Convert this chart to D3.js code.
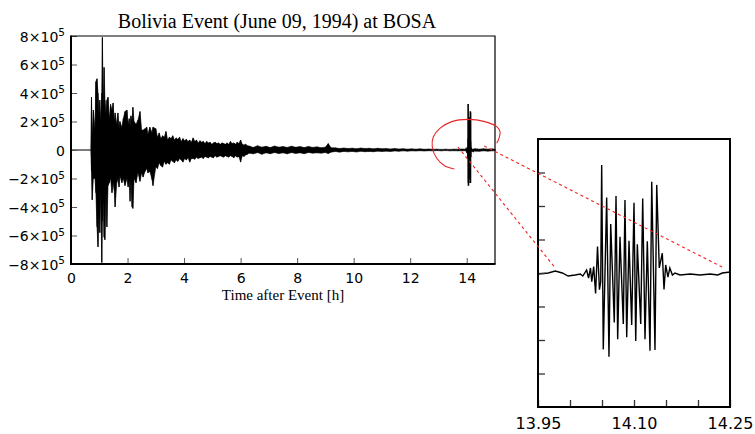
<!DOCTYPE html>
<html lang="en">
  <head>
    <meta charset="utf-8" />
    <style>
      body {
        margin: 0;
        background: #fff;
      }
      svg {
        display: block;
      }
    </style>
  </head>
  <body>
    <svg id="chart" width="755" height="434"></svg>
    <script src="https://d3js.org/d3.v7.min.js"></script>
    <script>
      // values in units of 1e5 counts, time in hours after the event

      // min / max envelope of the trace
      const envTime = [
        0, 0.7, 0.725, 0.75, 0.79, 0.85, 0.88, 0.92, 0.955, 0.99, 1.02, 1.05,
        1.09, 1.11, 1.14, 1.17, 1.2, 1.24, 1.27, 1.31, 1.355, 1.4, 1.45, 1.49,
        1.53, 1.56, 1.62, 1.66, 1.7, 1.73, 1.8, 1.85, 1.91, 1.98, 2.02, 2.06,
        2.09, 2.12, 2.16, 2.19, 2.23, 2.3, 2.37, 2.44, 2.5, 2.55, 2.62, 2.68,
        2.72, 2.79, 2.87, 2.9,
        3.0, 3.06, 3.12, 3.18, 3.24, 3.3, 3.36, 3.42, 3.48, 3.54, 3.6, 3.66,
        3.72, 3.78, 3.84, 3.9, 3.96, 4.02, 4.08, 4.14, 4.2, 4.26, 4.32, 4.38,
        4.44, 4.5, 4.56, 4.62, 4.68, 4.74, 4.8, 4.86, 4.92, 4.98, 5.04, 5.1,
        5.16, 5.22, 5.28, 5.34, 5.4, 5.46, 5.52, 5.58, 5.64, 5.7, 5.76, 5.82,
        5.88, 5.94, 6.0, 6.06, 6.12, 6.18, 6.24,
        6.3, 6.45, 6.6, 6.75, 6.9, 7.05, 7.2, 7.35, 7.5, 7.65, 7.8, 7.95, 8.1,
        8.25, 8.4, 8.55, 8.7, 8.85, 9.0, 9.1, 9.2, 9.35, 9.5, 9.65, 9.8, 9.95,
        10.1, 10.25, 10.4, 10.55, 10.7, 10.85, 11.0, 11.15, 11.3, 11.45, 11.6,
        11.75, 11.9, 12.05, 12.2, 12.35, 12.5, 12.65, 12.8, 12.95, 13.1,
        13.25, 13.4, 13.55, 13.7, 13.85, 13.97, 14.0, 14.18, 14.3, 14.45,
        14.6, 14.75, 14.9, 15.0
      ];
      const envHigh = [
        0, 0, 3.7, 1.0, 2.8, 1.5, 4.8, 5.0, 4.0, 2.5, 3.5, 2.0, 4.0, 7.9, 3.0,
        5.8, 3.5, 2.5, 3.5, 3.7, 2.2, 3.2, 2.8, 3.3, 2.0, 2.6, 1.8, 2.6, 1.5,
        2.0, 1.6, 2.2, 2.7, 2.8, 1.8, 2.2, 1.6, 2.4, 2.0, 3.0, 2.0, 1.8, 2.1,
        2.7, 1.4, 1.4, 1.5, 1.6, 1.1, 1.6, 1.2, 1.6,
        1.5, 0.9, 1.2, 0.8, 1.0, 0.9, 1.3, 0.7, 0.9, 0.8, 1.0, 0.7, 0.85, 0.75,
        0.9, 0.6, 0.8, 0.65, 0.75, 0.6, 0.7, 0.55, 0.85, 0.6, 0.7, 0.5, 0.65,
        0.55, 0.6, 0.45, 0.6, 0.5, 0.55, 0.4, 0.5, 0.55, 0.45, 0.5, 0.4, 0.5,
        0.45, 0.4, 0.5, 0.4, 0.6, 0.45, 0.5, 0.4, 0.55, 0.45, 0.7, 0.4, 0.35,
        0.4, 0.3,
        0.28, 0.18, 0.3, 0.2, 0.26, 0.17, 0.28, 0.2, 0.24, 0.18, 0.27, 0.19,
        0.24, 0.17, 0.25, 0.18, 0.22, 0.16, 0.2, 0.45, 0.15, 0.15, 0.1, 0.14,
        0.1, 0.13, 0.09, 0.14, 0.1, 0.12, 0.08, 0.12, 0.09, 0.1, 0.07, 0.1,
        0.07, 0.09, 0.06, 0.08, 0.06, 0.08, 0.05, 0.07, 0.05, 0.06, 0.04,
        0.06, 0.04, 0.06, 0.05, 0.07, 0.05, 0.04, 0.05, 0.09, 0.06, 0.09,
        0.06, 0.08, 0.05
      ];
      const envLow = [
        0, 0, -1.5, -3.5, -2.0, -2.0, -3.0, -5.4, -6.8, -4.5, -5.8, -3.0, -7.9,
        -5.0, -3.5, -6.1, -6.3, -3.0, -5.4, -2.5, -2.3, -2.0, -3.0, -2.3, -2.8,
        -4.0, -2.3, -2.0, -2.6, -1.8, -2.3, -2.0, -2.5, -2.0, -2.6, -2.2, -3.6,
        -2.0, -4.0, -4.1, -2.0, -2.3, -1.6, -2.2, -1.6, -1.9, -1.5, -1.3, -1.6,
        -1.5, -2.1, -2.5,
        -1.2, -1.3, -0.9, -1.1, -1.2, -0.8, -1.0, -0.9, -1.0, -0.7, -0.8, -0.9,
        -0.7, -0.8, -0.6, -0.7, -0.85, -0.6, -0.7, -0.55, -0.85, -0.6, -0.6,
        -0.65, -0.5, -0.6, -0.55, -0.5, -0.6, -0.45, -0.5, -0.55, -0.45, -0.5,
        -0.55, -0.4, -0.5, -0.45, -0.4, -0.45, -0.5, -0.4, -0.45, -0.5, -0.4,
        -0.45, -0.55, -0.4, -0.5, -0.45, -0.85, -0.4, -0.45, -0.35, -0.3,
        -0.22, -0.27, -0.18, -0.3, -0.2, -0.26, -0.18, -0.25, -0.2, -0.27,
        -0.18, -0.24, -0.2, -0.26, -0.17, -0.22, -0.2, -0.22, -0.18, -0.25,
        -0.15, -0.1, -0.15, -0.1, -0.13, -0.1, -0.14, -0.09, -0.12, -0.1,
        -0.12, -0.08, -0.1, -0.08, -0.1, -0.07, -0.09, -0.06, -0.08, -0.06,
        -0.07, -0.05, -0.07, -0.05, -0.06, -0.04, -0.06, -0.04, -0.06, -0.05,
        -0.06, -0.05, -0.05, -0.04, -0.06, -0.08, -0.09, -0.06, -0.08, -0.06,
        -0.05
      ];

      // the burst around 14.1 h, sample by sample
      const burstTime = [
        13.95, 13.966, 13.977, 13.988, 13.997, 14.008, 14.016, 14.02, 14.026,
        14.029, 14.032, 14.034, 14.037, 14.04, 14.043, 14.046, 14.048, 14.0495,
        14.052, 14.0573, 14.0609, 14.0636, 14.0692, 14.0719, 14.0745, 14.0781,
        14.0833, 14.0859, 14.0886, 14.0922, 14.0964, 14.1, 14.1027, 14.1052,
        14.1105, 14.1136, 14.1172, 14.1208, 14.125, 14.1277, 14.1328, 14.1355,
        14.1395, 14.1442, 14.1469, 14.1495, 14.153, 14.156, 14.16, 14.164,
        14.172, 14.188, 14.203, 14.219, 14.231, 14.238, 14.25
      ];
      const burstValue = [
        -0.03, 0.0, 0.06, 0.0, -0.09, -0.06, -0.03, -0.09, 0.09, -0.15, 0.15,
        -0.26, 0.19, -0.61, 0.79, -0.5, -0.27, 3.22, -2.28, 2.25, -2.5, 1.46,
        -1.48, 2.3, -1.98, 1.08, -1.52, 2.18, -1.92, 0.96, -1.55, 2.1, -2.03,
        0.86, -1.52, 2.22, -1.98, 0.95, -2.32, 2.72, -2.3, 2.63, 0.15, 0.59,
        -0.49, 0.24, -0.12, 0.15, -0.06, 0.0, -0.06, -0.03, -0.06, -0.03,
        -0.06, 0.0, 0.03
      ];

      const mainYTicks = [-8, -6, -4, -2, 0, 2, 4, 6, 8];
      const mainXTicks = [0, 2, 4, 6, 8, 10, 12, 14];
      const insetYTicks = [-3, -2, -1, 0, 1, 2, 3];
      const insetXTicks = [13.95, 14.0, 14.05, 14.1, 14.15, 14.2, 14.25];
      const insetXLabels = [13.95, 14.1, 14.25];

      // red hand-drawn loop around the burst (main plot units)
      const loopTime = [
        13.56, 13.23, 12.94, 12.78, 12.82, 13.05, 13.47, 14.05, 14.64, 15.06,
        15.18, 15.14, 15.06
      ];
      const loopValue = [
        -1.33, -1.12, -0.58, 0.23, 0.93, 1.52, 1.99, 2.15, 1.99, 1.64, 1.28,
        0.82, 0.47
      ];
      // red dashed zoom lines: start in main plot, end in inset
      const zoomFromTime = [13.69, 14.62];
      const zoomFromValue = [0.21, 0.28];
      const zoomToTime = [13.977, 14.2375];
      const zoomToValue = [0.15, 0.18];

      const svg = d3.select("#chart");

      const main = { left: 71, right: 495, top: 36, bottom: 264 };
      const inset = { left: 538, right: 730, top: 139, bottom: 407 };

      const x = d3.scaleLinear().domain([0, 15]).range([main.left, main.right]);
      const y = d3.scaleLinear().domain([-8, 8]).range([main.bottom, main.top]);
      const xi = d3
        .scaleLinear()
        .domain([13.95, 14.25])
        .range([inset.left, inset.right]);
      const yi = d3
        .scaleLinear()
        .domain([-4, 4])
        .range([inset.bottom, inset.top]);

      const env = envTime.map((t, i) => ({
        t: t,
        hi: envHigh[i],
        lo: envLow[i]
      }));
      const burst = burstTime.map((t, i) => ({ t: t, v: burstValue[i] }));

      // ---- main plot ----
      svg
        .append("path")
        .datum(env)
        .attr("fill", "#000")
        .attr("stroke", "#000")
        .attr("stroke-width", 0.6)
        .attr(
          "d",
          d3
            .area()
            .x(d => x(d.t))
            .y0(d => y(d.lo))
            .y1(d => y(d.hi))
        );

      // one stroke per sample so the spikes reach their full height
      svg
        .append("g")
        .attr("stroke", "#000")
        .attr("stroke-width", 1)
        .selectAll("line")
        .data(env.filter(d => d.hi - d.lo > 0))
        .join("line")
        .attr("x1", d => x(d.t))
        .attr("x2", d => x(d.t))
        .attr("y1", d => y(d.lo))
        .attr("y2", d => y(d.hi));

      svg
        .append("path")
        .datum(burst)
        .attr("fill", "none")
        .attr("stroke", "#000")
        .attr("stroke-width", 1.6)
        .attr(
          "d",
          d3
            .line()
            .x(d => x(d.t))
            .y(d => y(d.v))
        );

      const mainY = svg
        .append("g")
        .attr("transform", `translate(${main.left},0)`)
        .call(
          d3
            .axisLeft(y)
            .tickValues(mainYTicks)
            .tickSize(-6)
            .tickPadding(6)
        );
      mainY.select(".domain").remove();
      mainY.selectAll("line").attr("stroke", "#555");
      mainY
        .selectAll("text")
        .attr("font-family", "DejaVu Sans, sans-serif")
        .attr("font-size", 14)
        .attr("fill", "#000")
        .attr("dy", "0.36em")
        .each(function(d) {
          const t = d3.select(this).text("");
          if (d === 0) {
            t.text("0");
            return;
          }
          t.append("tspan").text((d < 0 ? "\u2212" : "") + Math.abs(d) + "\u00d710");
          t.append("tspan")
            .attr("font-size", 10.5)
            .attr("dy", -5.5)
            .text("5");
        });

      const mainX = svg
        .append("g")
        .attr("transform", `translate(0,${main.bottom})`)
        .call(
          d3
            .axisBottom(x)
            .tickValues(mainXTicks)
            .tickSize(-6)
            .tickPadding(9)
        );
      mainX.select(".domain").remove();
      mainX.selectAll("line").attr("stroke", "#555");
      mainX
        .selectAll("text")
        .attr("font-family", "DejaVu Sans, sans-serif")
        .attr("font-size", 14)
        .attr("fill", "#000");

      // frame: heavy left/bottom, light top/right
      svg
        .append("path")
        .attr("d", `M${main.left},${main.top}H${main.right}V${main.bottom}`)
        .attr("fill", "none")
        .attr("stroke", "#000")
        .attr("stroke-width", 1.2);
      svg
        .append("path")
        .attr(
          "d",
          `M${main.left},${main.top - 0.6}V${main.bottom}H${main.right + 0.6}`
        )
        .attr("fill", "none")
        .attr("stroke", "#000")
        .attr("stroke-width", 2);

      svg
        .append("text")
        .attr("x", 277)
        .attr("y", 28)
        .attr("text-anchor", "middle")
        .attr("font-family", "Liberation Serif, Times New Roman, serif")
        .attr("font-size", 20)
        .text("Bolivia Event (June 09, 1994) at BOSA");

      svg
        .append("text")
        .attr("x", (main.left + main.right) / 2)
        .attr("y", 300)
        .attr("text-anchor", "middle")
        .attr("font-family", "Liberation Serif, Times New Roman, serif")
        .attr("font-size", 15)
        .text("Time after Event [h]");

      // ---- inset ----
      svg
        .append("path")
        .datum(burst)
        .attr("fill", "none")
        .attr("stroke", "#000")
        .attr("stroke-width", 1.4)
        .attr(
          "d",
          d3
            .line()
            .x(d => xi(d.t))
            .y(d => yi(d.v))
        );

      const insetY = svg
        .append("g")
        .attr("transform", `translate(${inset.left},0)`)
        .call(
          d3
            .axisLeft(yi)
            .tickValues(insetYTicks)
            .tickSize(-7)
            .tickFormat("")
        );
      insetY.select(".domain").remove();
      insetY.selectAll("line").attr("stroke", "#333").attr("stroke-width", 1.3);

      const insetX = svg
        .append("g")
        .attr("transform", `translate(0,${inset.bottom})`)
        .call(
          d3
            .axisBottom(xi)
            .tickValues(insetXTicks)
            .tickSize(-7)
            .tickPadding(11)
            .tickFormat(d =>
              insetXLabels.some(l => Math.abs(l - d) < 1e-9) ? d3.format(".2f")(d) : ""
            )
        );
      insetX.select(".domain").remove();
      insetX.selectAll("line").attr("stroke", "#333").attr("stroke-width", 1.3);
      insetX
        .selectAll("text")
        .attr("font-family", "DejaVu Sans, sans-serif")
        .attr("font-size", 16)
        .attr("fill", "#000");

      svg
        .append("rect")
        .attr("x", inset.left)
        .attr("y", inset.top)
        .attr("width", inset.right - inset.left)
        .attr("height", inset.bottom - inset.top)
        .attr("fill", "none")
        .attr("stroke", "#000")
        .attr("stroke-width", 2);

      // ---- red annotations ----
      svg
        .append("path")
        .datum(loopTime.map((t, i) => [x(t), y(loopValue[i])]))
        .attr("fill", "none")
        .attr("stroke", "#e8262a")
        .attr("stroke-width", 1.1)
        .attr("d", d3.line().curve(d3.curveCatmullRom));

      svg
        .selectAll(".zoomline")
        .data(zoomFromTime)
        .join("line")
        .attr("class", "zoomline")
        .attr("x1", (d, i) => x(d))
        .attr("y1", (d, i) => y(zoomFromValue[i]))
        .attr("x2", (d, i) => xi(zoomToTime[i]))
        .attr("y2", (d, i) => yi(zoomToValue[i]))
        .attr("stroke", "#f02020")
        .attr("stroke-width", 1.1)
        .attr("stroke-dasharray", "3,3");
    </script>
  </body>
</html>
